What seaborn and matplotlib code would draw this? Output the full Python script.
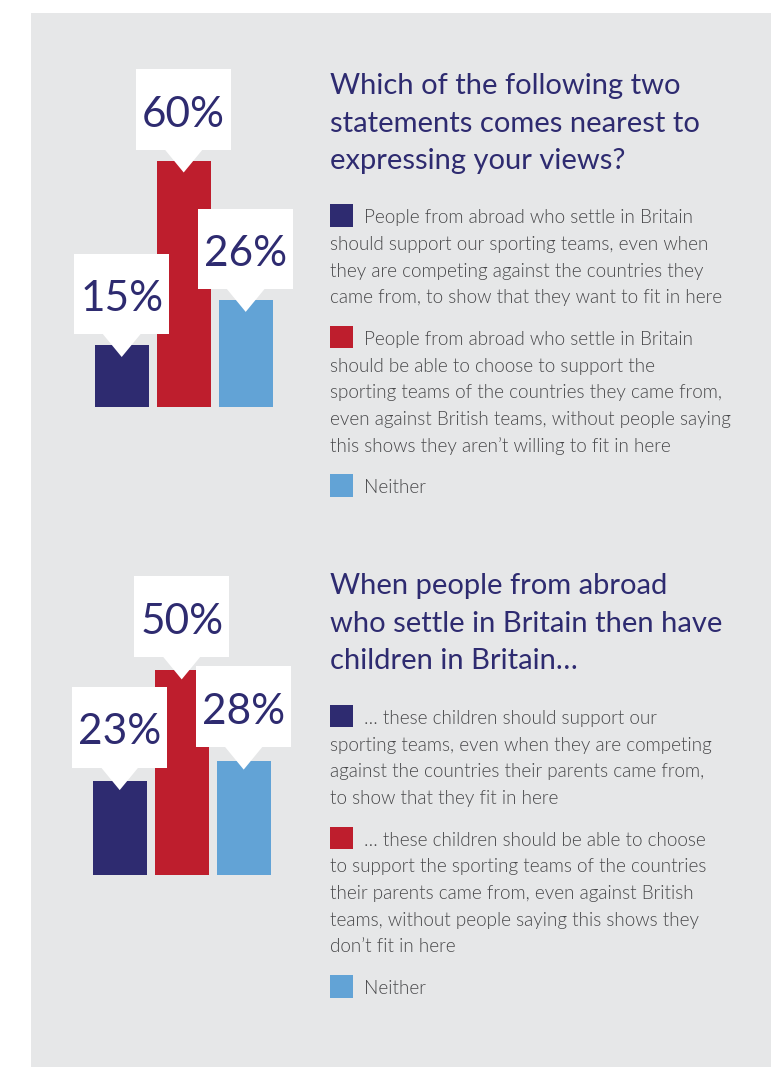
import matplotlib
matplotlib.use("Agg")
import matplotlib.pyplot as plt
import matplotlib.patches as mpatches
import matplotlib.transforms as mtransforms
import seaborn as sns
import pandas as pd

# ---- survey results (percent) ----
options = ["Support British teams", "Support teams of country of origin", "Neither"]
share_settlers = [15, 60, 26]
share_children = [23, 50, 28]
value_labels_settlers = ["15%", "60%", "26%"]
value_labels_children = ["23%", "50%", "28%"]

title_settlers = [
    "Which of the following two",
    "statements comes nearest to",
    "expressing your views?",
]
legend_settlers = [
    ["People from abroad who settle in Britain",
     "should support our sporting teams, even when",
     "they are competing against the countries they",
     "came from, to show that they want to fit in here"],
    ["People from abroad who settle in Britain",
     "should be able to choose to support the",
     "sporting teams of the countries they came from,",
     "even against British teams, without people saying",
     "this shows they aren\u2019t willing to fit in here"],
    ["Neither"],
]
title_children = [
    "When people from abroad",
    "who settle in Britain then have",
    "children in Britain\u2026",
]
legend_children = [
    ["\u2026 these children should support our",
     "sporting teams, even when they are competing",
     "against the countries their parents came from,",
     "to show that they fit in here"],
    ["\u2026 these children should be able to choose",
     "to support the sporting teams of the countries",
     "their parents came from, even against British",
     "teams, without people saying this shows they",
     "don\u2019t fit in here"],
    ["Neither"],
]

# ---- styling ----
NAVY = "#2e2b70"
bar_colors = ["#2e2b70", "#be1e2d", "#62a3d6"]
PANEL = "#e6e7e8"
BODY = "#48484a"
FONT = "Lato"

W, H, DPI = 782, 1067, 100
PX_PER_PCT = 4.1
SLOT = 62.0          # pixels between bar centres
Y_MAX = 85

sns.set_theme(style="white")
plt.rcParams["font.family"] = [FONT, "DejaVu Sans"]

fig = plt.figure(figsize=(W / DPI, H / DPI), dpi=DPI, facecolor="white")

# grey panel behind everything
fig.patches.append(mpatches.Rectangle((31 / W, 0), (771 - 31) / W, (1067 - 13) / H,
                                      transform=fig.transFigure, facecolor=PANEL,
                                      edgecolor="none", zorder=-5))


def draw_bars(values, labels, left_px, base_px, gap_px):
    ax_w = 4 * SLOT
    ax_h = Y_MAX * PX_PER_PCT
    ax = fig.add_axes([left_px / W, 1 - base_px / H, ax_w / W, ax_h / H])
    ax.set_zorder(1)
    df = pd.DataFrame({"option": options, "share": values})
    sns.barplot(data=df, x="option", y="share", hue="option", palette=bar_colors,
                saturation=1, width=54 / SLOT, legend=False, ax=ax, linewidth=0)
    ax.set_xlim(-1, 3)
    ax.set_ylim(0, Y_MAX)
    ax.set_axis_off()
    ax.patch.set_alpha(0)

    ident = mtransforms.IdentityTransform()
    box_w, box_h, tri_h, tri_half = 94.5, 80.7, 22.6, 19.0
    for i, (v, lab) in enumerate(zip(values, labels)):
        x0, y0 = ax.transData.transform((i, v))
        b = y0 + gap_px
        ax.add_patch(mpatches.Rectangle((x0 - box_w / 2, b), box_w, box_h,
                                        transform=ident, facecolor="white",
                                        edgecolor="none", clip_on=False, zorder=5))
        ax.add_patch(mpatches.Polygon([(x0 - tri_half, b + 0.5), (x0 + tri_half, b + 0.5),
                                       (x0, b - tri_h)], closed=True, transform=ident,
                                      facecolor="white", edgecolor="none",
                                      clip_on=False, zorder=5))
        ax.text(x0, b + 23, lab, transform=ident, ha="center", va="baseline",
                fontsize=30.5, color=NAVY, zorder=6)
    return ax


def draw_text(title, items, title_base_px, item_base_px, item_gap_px):
    x_left = 330
    for k, line in enumerate(title):
        fig.text(x_left / W, 1 - (title_base_px + k * 37.4) / H, line,
                 fontsize=21, color=NAVY, ha="left", va="baseline")
    y = item_base_px
    for color, lines in zip(bar_colors, items):
        fig.patches.append(mpatches.Rectangle((x_left / W, 1 - (y + 3.4) / H),
                                              22.6 / W, 22.6 / H,
                                              transform=fig.transFigure,
                                              facecolor=color, edgecolor="none", zorder=2))
        for k, line in enumerate(lines):
            x = 364 if k == 0 else x_left
            fig.text(x / W, 1 - (y + k * 26.7) / H, line, fontsize=13.6,
                     fontweight=300, color=BODY, ha="left", va="baseline")
        y += (len(lines) - 1) * 26.7 + item_gap_px


draw_bars(share_settlers, value_labels_settlers, 59.7, 406.7, 10.8)
draw_bars(share_children, value_labels_children, 57.7, 875.3, 13.5)

draw_text(title_settlers, legend_settlers, 94.3, 223.3, 41.6)
draw_text(title_children, legend_children, 594.3, 724.0, 41.6)

fig.savefig("out.png", dpi=DPI, facecolor="white")
